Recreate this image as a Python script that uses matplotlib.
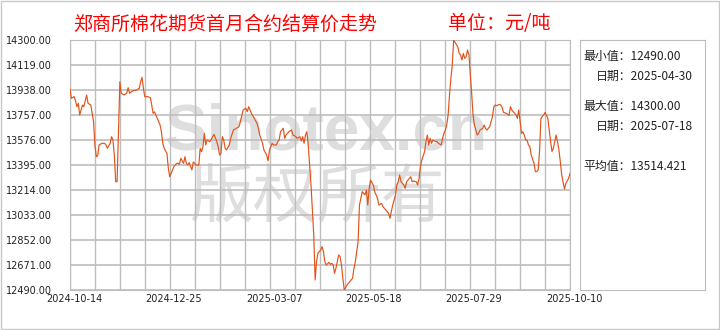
import matplotlib
matplotlib.use("Agg")
import matplotlib.pyplot as plt
import matplotlib.transforms as mtransforms
from matplotlib.patches import Rectangle
import pandas as pd

plt.rcParams['font.family'] = ['Noto Sans CJK SC', 'DejaVu Sans']

# 结算价数据
dates = [
    '2024-10-14', '2024-10-15', '2024-10-17', '2024-10-18', '2024-10-19', '2024-10-20', '2024-10-21', '2024-10-23', '2024-10-24', '2024-10-26',
    '2024-10-27', '2024-10-29', '2024-10-30', '2024-10-31', '2024-11-01', '2024-11-02', '2024-11-03', '2024-11-04', '2024-11-06', '2024-11-08',
    '2024-11-09', '2024-11-10', '2024-11-12', '2024-11-13', '2024-11-14', '2024-11-15', '2024-11-16', '2024-11-17', '2024-11-19', '2024-11-20',
    '2024-11-22', '2024-11-24', '2024-11-25', '2024-11-26', '2024-11-28', '2024-12-01', '2024-12-03', '2024-12-04', '2024-12-05', '2024-12-06',
    '2024-12-07', '2024-12-09', '2024-12-11', '2024-12-12', '2024-12-13', '2024-12-14', '2024-12-15', '2024-12-16', '2024-12-18', '2024-12-19',
    '2024-12-20', '2024-12-21', '2024-12-23', '2024-12-24', '2024-12-25', '2024-12-26', '2024-12-28', '2024-12-30', '2024-12-31', '2025-01-01',
    '2025-01-02', '2025-01-04', '2025-01-05', '2025-01-06', '2025-01-07', '2025-01-08', '2025-01-10', '2025-01-11', '2025-01-12', '2025-01-13',
    '2025-01-15', '2025-01-16', '2025-01-17', '2025-01-18', '2025-01-19', '2025-01-20', '2025-01-21', '2025-01-23', '2025-01-25', '2025-01-26',
    '2025-01-28', '2025-01-29', '2025-01-30', '2025-01-31', '2025-02-01', '2025-02-02', '2025-02-03', '2025-02-04', '2025-02-06', '2025-02-07',
    '2025-02-09', '2025-02-11', '2025-02-13', '2025-02-14', '2025-02-16', '2025-02-18', '2025-02-19', '2025-02-20', '2025-02-22', '2025-02-24',
    '2025-02-26', '2025-02-27', '2025-02-28', '2025-03-02', '2025-03-03', '2025-03-05', '2025-03-06', '2025-03-07', '2025-03-09', '2025-03-10',
    '2025-03-12', '2025-03-13', '2025-03-14', '2025-03-15', '2025-03-17', '2025-03-18', '2025-03-19', '2025-03-21', '2025-03-23', '2025-03-24',
    '2025-03-26', '2025-03-27', '2025-03-29', '2025-03-30', '2025-03-31', '2025-04-01', '2025-04-02', '2025-04-03', '2025-04-04', '2025-04-06',
    '2025-04-08', '2025-04-09', '2025-04-10', '2025-04-11', '2025-04-13', '2025-04-14', '2025-04-15', '2025-04-16', '2025-04-17', '2025-04-19',
    '2025-04-20', '2025-04-21', '2025-04-22', '2025-04-23', '2025-04-24', '2025-04-26', '2025-04-27', '2025-04-28', '2025-04-29', '2025-04-30',
    '2025-05-02', '2025-05-06', '2025-05-07', '2025-05-08', '2025-05-10', '2025-05-11', '2025-05-12', '2025-05-13', '2025-05-15', '2025-05-16',
    '2025-05-17', '2025-05-18', '2025-05-19', '2025-05-21', '2025-05-22', '2025-05-24', '2025-05-25', '2025-05-27', '2025-05-28', '2025-05-30',
    '2025-06-01', '2025-06-02', '2025-06-03', '2025-06-04', '2025-06-06', '2025-06-07', '2025-06-08', '2025-06-09', '2025-06-10', '2025-06-12',
    '2025-06-13', '2025-06-14', '2025-06-15', '2025-06-17', '2025-06-18', '2025-06-19', '2025-06-21', '2025-06-22', '2025-06-23', '2025-06-24',
    '2025-06-25', '2025-06-27', '2025-06-28', '2025-06-29', '2025-06-30', '2025-07-01', '2025-07-02', '2025-07-03', '2025-07-04', '2025-07-06',
    '2025-07-07', '2025-07-09', '2025-07-10', '2025-07-11', '2025-07-12', '2025-07-13', '2025-07-14', '2025-07-15', '2025-07-16', '2025-07-17',
    '2025-07-18', '2025-07-21', '2025-07-22', '2025-07-23', '2025-07-24', '2025-07-25', '2025-07-26', '2025-07-27', '2025-07-28', '2025-07-29',
    '2025-07-31', '2025-08-01', '2025-08-02', '2025-08-03', '2025-08-04', '2025-08-05', '2025-08-06', '2025-08-08', '2025-08-09', '2025-08-10',
    '2025-08-11', '2025-08-13', '2025-08-14', '2025-08-15', '2025-08-16', '2025-08-17', '2025-08-18', '2025-08-20', '2025-08-21', '2025-08-22',
    '2025-08-23', '2025-08-25', '2025-08-26', '2025-08-27', '2025-08-28', '2025-08-29', '2025-08-31', '2025-09-01', '2025-09-02', '2025-09-03',
    '2025-09-04', '2025-09-05', '2025-09-06', '2025-09-07', '2025-09-08', '2025-09-09', '2025-09-10', '2025-09-11', '2025-09-12', '2025-09-14',
    '2025-09-15', '2025-09-16', '2025-09-17', '2025-09-18', '2025-09-19', '2025-09-21', '2025-09-22', '2025-09-24', '2025-09-25', '2025-09-26',
    '2025-09-27', '2025-09-28', '2025-09-30', '2025-10-01', '2025-10-02', '2025-10-03', '2025-10-04', '2025-10-06', '2025-10-07', '2025-10-09',
    '2025-10-10',
]
prices = [
    13945, 13878, 13890, 13858, 13817, 13842, 13757, 13829, 13817, 13902,
    13842, 13829, 13769, 13709, 13540, 13455, 13462, 13540, 13552, 13552,
    13540, 13516, 13552, 13600, 13576, 13467, 13274, 13274, 13998, 13914,
    13902, 13914, 13955, 13914, 13931, 13938, 13950, 13998, 14030, 13950,
    13890, 13890, 13883, 13829, 13769, 13780, 13757, 13733, 13685, 13636,
    13552, 13516, 13479, 13371, 13310, 13335, 13383, 13407, 13407, 13400,
    13443, 13407, 13455, 13407, 13395, 13412, 13359, 13417, 13407, 13395,
    13395, 13516, 13492, 13528, 13624, 13540, 13576, 13564, 13600, 13617,
    13564, 13528, 13467, 13479, 13600, 13576, 13516, 13504, 13540, 13588,
    13648, 13660, 13672, 13709, 13793, 13805, 13781, 13817, 13769, 13733,
    13697, 13661, 13612, 13552, 13504, 13467, 13424, 13504, 13552, 13540,
    13540, 13564, 13576, 13636, 13661, 13588, 13612, 13636, 13648, 13612,
    13600, 13588, 13600, 13569, 13600, 13552, 13612, 13636, 13540, 13250,
    12888, 12562, 12695, 12756, 12780, 12804, 12768, 12695, 12671, 12690,
    12676, 12683, 12671, 12611, 12647, 12744, 12732, 12671, 12575, 12490,
    12526, 12575, 12647, 12695, 12840, 13105, 13154, 13202, 13178, 13214,
    13105, 13226, 13286, 13250, 13202, 13154, 13105, 13117, 13093, 13069,
    13045, 13009, 13057, 13105, 13178, 13250, 13274, 13323, 13274, 13250,
    13226, 13274, 13286, 13310, 13274, 13279, 13274, 13250, 13298, 13383,
    13431, 13491, 13564, 13612, 13540, 13588, 13552, 13576, 13569, 13564,
    13552, 13540, 13588, 13624, 13648, 13685, 13757, 13902, 14023, 14119,
    14300, 14250, 14203, 14191, 14155, 14203, 14167, 14179, 14228, 14196,
    13914, 13757, 13685, 13648, 13612, 13624, 13648, 13660, 13685, 13660,
    13648, 13672, 13709, 13745, 13817, 13829, 13824, 13834, 13829, 13810,
    13776, 13769, 13762, 13752, 13817, 13793, 13769, 13757, 13733, 13793,
    13709, 13624, 13636, 13612, 13576, 13576, 13540, 13528, 13467, 13407,
    13347, 13347, 13359, 13492, 13733, 13757, 13776, 13733, 13648, 13564,
    13492, 13516, 13612, 13564, 13504, 13419, 13323, 13221, 13262, 13298,
    13335,
]

y_ticks = [12490, 12671, 12852, 13033, 13214, 13395, 13576, 13757, 13938, 14119, 14300]
x_labels = ['2024-10-14', '2024-12-25', '2025-03-07', '2025-05-18', '2025-07-29', '2025-10-10']

title = '郑商所棉花期货首月合约结算价走势'
unit = '单位：元/吨'
stat_lines = ['最小值：12490.00', '  日期：2025-04-30', '最大值：14300.00', '  日期：2025-07-18', '平均值：13514.421']

W, H = 720, 330
def fx(x):
    return x / W
def fy(y):
    return 1 - y / H

GRID = '#bdbdbd'

fig = plt.figure(figsize=(7.2, 3.3), dpi=100)
fig.patches.append(Rectangle((0.001, 0.002), 0.997, 0.995, transform=fig.transFigure,
                             fill=False, edgecolor='#c8c8c8', lw=1))

ax = fig.add_axes([fx(70), fy(290), 500 / W, 250 / H])
x = pd.to_datetime(dates)
ax.plot(x, prices, color='#e0541c', lw=0.85, zorder=3)

start, end = pd.Timestamp(x_labels[0]), pd.Timestamp(x_labels[-1])
ax.set_xlim(start, end)
ax.set_ylim(y_ticks[0], y_ticks[-1])
grid_x = pd.date_range(start, end, periods=21)
ax.set_xticks(grid_x[::4])
ax.set_xticklabels(x_labels)
ax.set_yticks(y_ticks)
ax.set_yticklabels([f'{v:.2f}' for v in y_ticks])
ax.tick_params(length=0)
ax.tick_params(axis='x', pad=3, labelsize=7, labelcolor='#222222')
ax.tick_params(axis='y', pad=13, labelsize=7, labelcolor='#222222')
for lab in ax.get_xticklabels() + ax.get_yticklabels():
    lab.set_family('DejaVu Sans')
shift = mtransforms.ScaledTranslation(4 / 100, 0, fig.dpi_scale_trans)
for lab in ax.get_xticklabels():
    lab.set_transform(lab.get_transform() + shift)
for s in ax.spines.values():
    s.set_color(GRID)

# 网格
ax.vlines(grid_x, y_ticks[0], y_ticks[-1], colors=GRID, lw=1.0, zorder=1)
ax.hlines(y_ticks, start, end, colors=GRID, lw=1.2, zorder=1)

# 水印
ax.text(fx(326), fy(132), 'Sinotex.cn', transform=fig.transFigure, fontsize=46,
        fontweight='bold', family='Liberation Sans', color='#dedede',
        ha='center', va='center', zorder=0.2)
ax.text(fx(317), fy(199), '版权所有', transform=fig.transFigure, fontsize=46,
        color='#dedede', ha='center', va='center', zorder=0.2)

# 右侧统计框
ax2 = fig.add_axes([fx(580), fy(290), 125 / W, 250 / H])
ax2.set_xticks([])
ax2.set_yticks([])
for s in ax2.spines.values():
    s.set_color(GRID)

for txt, yy in zip(stat_lines, [56, 76, 106, 126, 166]):
    xx = 583 if not txt.startswith(' ') else 596
    fig.text(fx(xx), fy(yy), txt.strip(), fontsize=8.6, color='#222222', ha='left', va='center')

fig.text(fx(73), fy(24), title, fontsize=13.7, color='#ff0000', ha='left', va='center')
fig.text(fx(448), fy(24), unit, fontsize=13.7, color='#ff0000', ha='left', va='center')

fig.savefig('out.png', dpi=100)
